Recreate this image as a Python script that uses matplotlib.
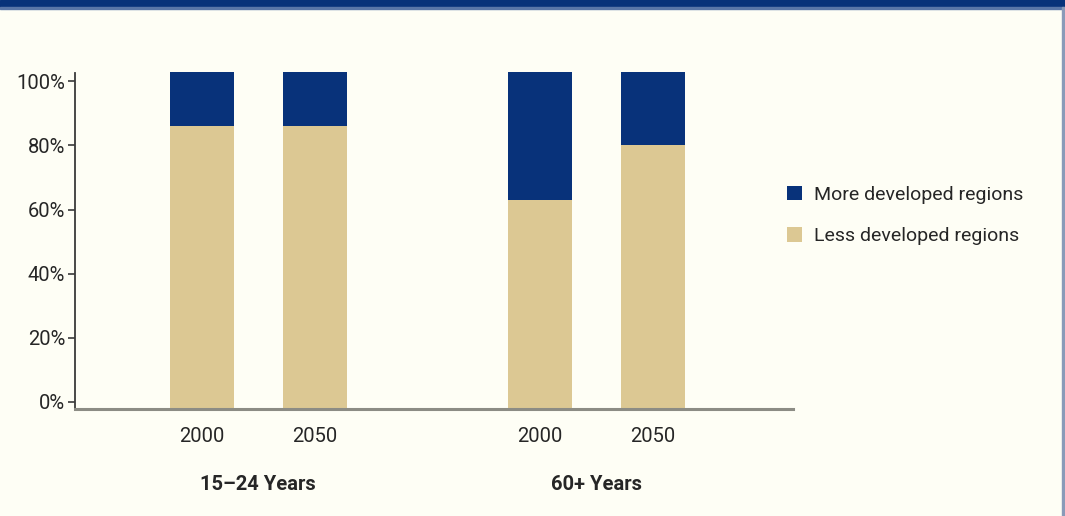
"""
Share of the world's young (15-24) and older (60+) people living in
more / less developed regions, 2000 and 2050.
Run: python plot.py -> out.png
"""

import numpy as np
import matplotlib
matplotlib.use("Agg")
import matplotlib.pyplot as plt
from matplotlib.patches import Rectangle

# values (percent, on the axis' tick scale)
years = ["2000", "2050", "2000", "2050"]
groups = ["15–24 Years", "60+ Years"]
less_developed = [86, 86, 63, 80]
more_developed = [17, 17, 40, 23]
series_names = ["More developed regions", "Less developed regions"]

BLUE = "#08327a"
TAN = "#dcc893"
BG = "#fefef5"
TEXT = "#262626"
FONT = ["Roboto", "Liberation Sans", "DejaVu Sans"]

plt.rcParams["font.family"] = FONT

W, H = 1065, 516
fig = plt.figure(figsize=(W / 100, H / 100), dpi=100, facecolor=BG)

# axes placed in pixel terms: x 75..793, y 71..409
L, R, T, B = 75, 793, 71, 409
ax = fig.add_axes([L / W, 1 - B / H, (R - L) / W, (B - T) / H])
ax.set_facecolor(BG)

YMIN, YMAX = -2.2, 103.2
xpos = np.array([0, 1, 3, 4]) * 1.0
width = 0.57

less = np.array(less_developed, dtype=float)
more = np.array(more_developed, dtype=float)
ax.bar(xpos, less - YMIN, bottom=YMIN, width=width, color=TAN, zorder=2,
       label=series_names[1])
ax.bar(xpos, more, bottom=less, width=width, color=BLUE, zorder=2,
       label=series_names[0])

ax.set_xlim(-1.127, 5.244)
ax.set_ylim(YMIN, YMAX)

# axes styling
for s in ("top", "right"):
    ax.spines[s].set_visible(False)
ax.spines["left"].set_color("#3a3a3a")
ax.spines["left"].set_linewidth(1.3)
ax.spines["left"].set_bounds(YMIN, 102.5)
ax.spines["bottom"].set_color("#8c8c84")
ax.spines["bottom"].set_linewidth(2.2)
ax.spines["bottom"].set_zorder(3)

ax.set_yticks([0, 20, 40, 60, 80, 100])
ax.set_yticklabels([f"{v}%" for v in range(0, 101, 20)])
ax.tick_params(axis="y", length=5, width=1.2, color="#3a3a3a", pad=2,
               labelsize=14.5, labelcolor=TEXT)

ax.set_xticks(xpos)
ax.set_xticklabels(years)
ax.tick_params(axis="x", length=0, pad=13, labelsize=14.5, labelcolor=TEXT)

# group labels under the year labels
for i, g in enumerate(groups):
    cx = xpos[2 * i:2 * i + 2].mean()
    ax.text(cx, -0.222, g, transform=ax.get_xaxis_transform(), ha="center",
            va="center", fontsize=14.5, fontweight="bold", color=TEXT)

# legend (More first, then Less)
h, lab = ax.get_legend_handles_labels()
leg = fig.legend(h[::-1], lab[::-1], loc="upper left",
                 bbox_to_anchor=(769 / W, 1 - 168 / H), frameon=False,
                 fontsize=14, handlelength=0.8, handleheight=0.8,
                 handletextpad=0.6, labelspacing=1.2, labelcolor=TEXT)

# page decorations: blue band on top, thin frame line on the right
fig.add_artist(Rectangle((0, 1 - 7 / H), 1, 7 / H, transform=fig.transFigure,
                         color=BLUE, zorder=0))
fig.add_artist(Rectangle((0, 1 - 8.5 / H), 1, 1.5 / H,
                         transform=fig.transFigure, color="#5a76a8", zorder=0))
fig.add_artist(Rectangle((1062 / W, 0), 1.5 / W, 1 - 7 / H,
                         transform=fig.transFigure, color="#8a9ab8", zorder=0))

fig.savefig("out.png", dpi=100, facecolor=BG)
